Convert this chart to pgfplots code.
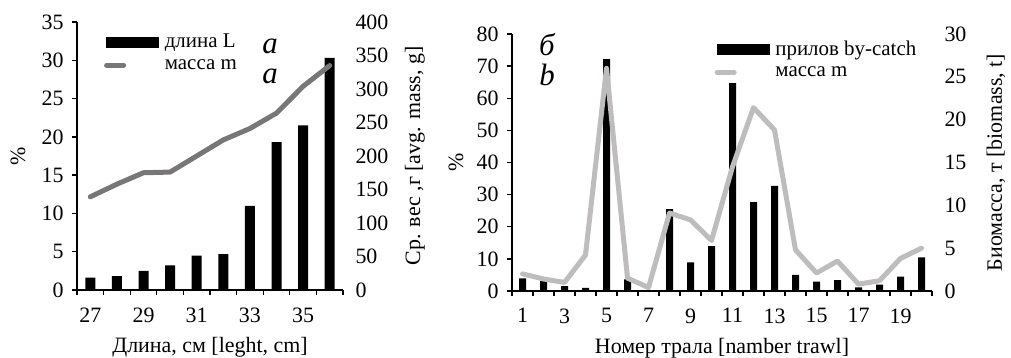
\documentclass[border=0pt]{standalone}
\usepackage{fontspec}
\setmainfont{Liberation Serif}
\usepackage{pgfplots}
\pgfplotsset{compat=1.18}
\definecolor{lgray}{RGB}{120,118,118}
\definecolor{pgray}{RGB}{190,188,188}
\pgfplotsset{
  common/.style={scale only axis, /pgf/number format/assume math mode=true,
    tick align=outside, major tick length=5bp, tick style={black, line width=1.3bp},
    axis line style={line width=1.5bp, black},
    tick label style={font=\fontsize{22}{26}\selectfont},
    label style={font=\fontsize{22}{26}\selectfont},
    ymin=0},
  leftax/.style={common, axis x line*=bottom, axis y line*=left,
    xticklabel style={yshift=-9bp}, yticklabel style={xshift=-5bp},
    xlabel style={at={(axis description cs:0.5,0)}, anchor=center, yshift=-57bp}},
  rightax/.style={common, axis x line=none, axis y line*=right, y axis line style={draw=none},
    major tick length=0pt, yticklabel style={xshift=9bp},
    legend style={draw=none, fill=none, legend cell align=left,
      font=\fontsize{21}{25}\selectfont,
      row sep=6bp, /tikz/every odd column/.append style={column sep=4bp}}},
  barsw/.style={legend image code/.code={\fill[black] (0bp,-5bp) rectangle (52bp,5bp);}},
}
\begin{document}
\begin{tikzpicture}[font=\fontsize{22}{26}\selectfont]
\useasboundingbox (0,0) rectangle (1011bp,358bp);
% ---------- left chart ----------
\begin{axis}[leftax, at={(77bp,68bp)}, anchor=south west, width=266bp, height=268bp,
  xmin=26.5, xmax=36.5, ymax=35, ytick={0,5,...,35},
  xtick={26.5,27.5,...,36.5}, x tick label as interval,
  xticklabels={27,,29,,31,,33,,35,},
  ylabel={\%}, ylabel style={at={(axis description cs:0,0.5)}, anchor=center, yshift=59bp},
  xlabel={Длина, см [leght, cm]}]
\addplot[ybar, bar width=10bp, fill=black, draw=none] coordinates {
(27,1.6) (28,1.8) (29,2.5) (30,3.2) (31,4.5) (32,4.7) (33,11.0) (34,19.3) (35,21.5) (36,30.3)};
\end{axis}
\begin{axis}[rightax, at={(77bp,68bp)}, anchor=south west, width=266bp, height=268bp,
  xmin=26.5, xmax=36.5, ymax=400, ytick={0,50,...,400},
  ylabel={Ср. вес ,г [avg. mass, g]},
  ylabel style={at={(axis description cs:1,0.5)}, anchor=center, yshift=-72bp},
  legend style={at={(0.09,0.97)}, anchor=north west}]
\addlegendimage{barsw}
\addlegendentry{длина L}
\addplot[lgray, line width=5bp, line join=round, line cap=round] coordinates {
(27,139) (28,158) (29,175) (30,176) (31,200) (32,224) (33,241) (34,264) (35,304) (36,335)};
\addlegendentry{масса m}
\end{axis}
\node[font=\fontsize{31}{34}\selectfont\itshape] at (270bp,312bp) {а};
\node[font=\fontsize{31}{34}\selectfont\itshape] at (270bp,282bp) {а};
% ---------- right chart ----------
\begin{axis}[leftax, at={(512bp,67bp)}, anchor=south west, width=420bp, height=257bp,
  xmin=0.5, xmax=20.5, ymax=80, ytick={0,10,...,80},
  xtick={0.5,1.5,...,20.5}, x tick label as interval,
  xticklabels={1,,3,,5,,7,,9,,11,,13,,15,,17,,19,},
  ylabel={\%}, ylabel style={at={(axis description cs:0,0.5)}, anchor=center, yshift=56bp},
  xlabel={Номер трала [namber trawl]}]
\addplot[ybar, bar width=7bp, fill=black, draw=none] coordinates {
(1,3.9) (2,3.1) (3,1.5) (4,1.0) (5,72.2) (6,3.6) (7,0.3) (8,25.5) (9,8.9) (10,14.0)
(11,64.7) (12,27.7) (13,32.7) (14,5.0) (15,2.9) (16,3.4) (17,1.1) (18,2.0) (19,4.5) (20,10.5)};
\end{axis}
\begin{axis}[rightax, at={(512bp,67bp)}, anchor=south west, width=420bp, height=257bp,
  xmin=0.5, xmax=20.5, ymax=30, ytick={0,5,...,30},
  ylabel={Биомасса, т [biomass, t]},
  ylabel style={at={(axis description cs:1,0.5)}, anchor=center, yshift=-64bp},
  legend style={at={(0.475,0.99)}, anchor=north west}]
\addlegendimage{barsw}
\addlegendentry{прилов by-catch}
\addplot[pgray, line width=5bp, line join=round, line cap=round] coordinates {
(1,2.0) (2,1.4) (3,1.0) (4,4.2) (5,26.0) (6,1.5) (7,0.4) (8,9.1) (9,8.3) (10,5.9)
(11,14.5) (12,21.4) (13,18.8) (14,4.8) (15,2.1) (16,3.5) (17,0.8) (18,1.2) (19,3.8) (20,5.0)};
\addlegendentry{масса m}
\end{axis}
\node[font=\fontsize{31}{34}\selectfont\itshape] at (547bp,313bp) {б};
\node[font=\fontsize{31}{34}\selectfont\itshape] at (547bp,283bp) {b};
\end{tikzpicture}
\end{document}
